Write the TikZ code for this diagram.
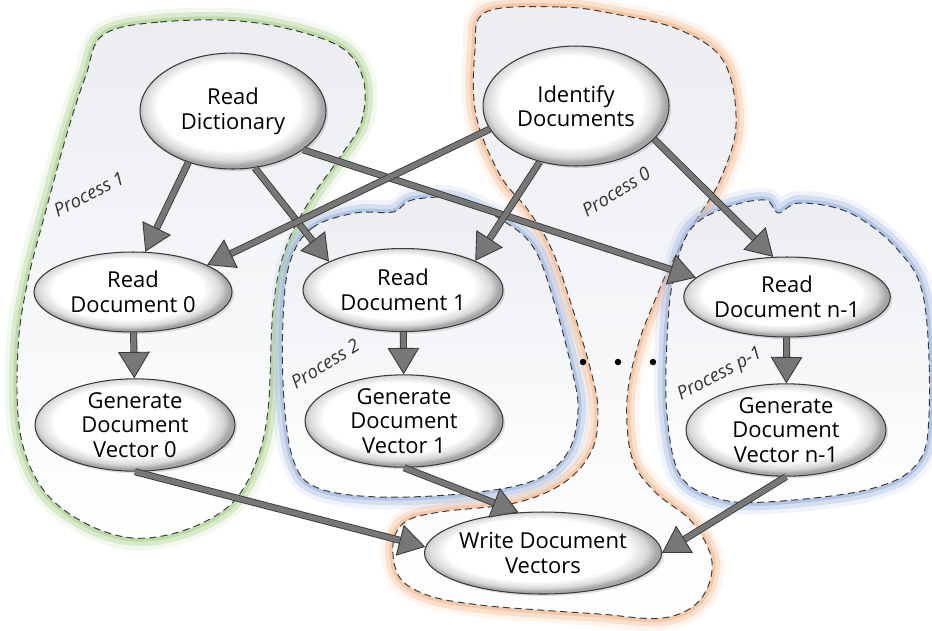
\documentclass[tikz,border=0pt]{standalone}
\usepackage{fontspec}
\setmainfont{Open Sans}
\usetikzlibrary{shapes.geometric,arrows.meta,backgrounds,shadows}

\definecolor{glowgreen}{HTML}{A9D18E}
\definecolor{glowblue}{HTML}{9DB5E0}
\definecolor{gloworange}{HTML}{F4B98F}
\definecolor{blobfill}{HTML}{EBEDF2}
\definecolor{arrowgray}{HTML}{777777}
\definecolor{edgegray}{HTML}{3A3A3A}

\pgfdeclareradialshading{rim}{\pgfpoint{-2bp}{3bp}}{color(0bp)=(white); color(19bp)=(white); color(23bp)=(gray!30); color(25bp)=(gray!70); color(50bp)=(gray!70)}

\begin{document}
\begin{tikzpicture}[x=0.02cm, y=-0.02cm,
  task/.style={ellipse, draw=edgegray, line width=0.6pt, shade, shading=rim, align=center, inner sep=0pt,
    font=\fontsize{12.5}{14}\selectfont, drop shadow={shadow xshift=1.2pt, shadow yshift=-1.2pt, opacity=0.25}},
  flow/.style={draw=edgegray, line width=0.5pt, double=arrowgray, double distance=3pt,
    -{Triangle[length=15pt, width=18pt, line width=0.5pt, fill=arrowgray, color=edgegray]}},
  blob/.style={preaction={draw=#1, line width=14pt, opacity=0.15}, preaction={draw=#1, line width=9pt, opacity=0.35},
    preaction={draw=#1, line width=4pt, opacity=0.6},
    top color=blobfill, bottom color=white, postaction={draw=edgegray, line width=0.55pt, dash pattern=on 4pt off 2.5pt}},
  proc/.style={font=\fontsize{10.5}{12}\selectfont\itshape, text=black!80},
  dot/.style={circle, fill=black, inner sep=1.3pt},
]
\useasboundingbox (0,0) rectangle (932,630);

% === tasks ===
\node[task, minimum width=3.72cm, minimum height=2.32cm] (rdict) at (233,111) {Read\\Dictionary};
\node[task, minimum width=3.72cm, minimum height=2.40cm] (iddoc) at (576,106) {Identify\\Documents};

\node[task, minimum width=3.96cm, minimum height=1.60cm] (rd0) at (133,292) {Read\\Document 0};
\node[task, minimum width=4.00cm, minimum height=1.66cm] (rd1) at (403,290) {Read\\Document 1};
\node[task, minimum width=4.00cm, minimum height=1.60cm] (rdn) at (787,297) {Read\\Document n-1};

\node[task, minimum width=4.00cm, minimum height=1.72cm] (gv0) at (135,425) {Generate\\Document\\Vector 0};
\node[task, minimum width=3.96cm, minimum height=1.68cm] (gv1) at (404,421) {Generate\\Document\\Vector 1};
\node[task, minimum width=4.00cm, minimum height=1.70cm] (gvn) at (786,430) {Generate\\Document\\Vector n-1};

\node[task, minimum width=4.52cm, minimum height=1.64cm] (wdv) at (543,553) {Write Document\\Vectors};

% === process labels and dots ===
\node[proc, rotate=27] (p1) at (89,194) {Process 1};
\node[proc, rotate=32] (p0) at (616,192) {Process 0};
\node[proc, rotate=32] (p2) at (325,364) {Process 2};
\node[proc, rotate=28] (pp) at (720,375) {Process p-1};

\node[dot] (d1) at (583,362) {};
\node[dot] (d2) at (618,362) {};
\node[dot] (d3) at (653,362) {};

% === flows ===
\draw[flow] (rdict.229) -- (rd0.73);
\draw[flow] (rdict.291) -- (rd1.159);
\draw[flow] (rdict.331) -- (rdn.168);
\draw[flow] (iddoc.195) -- (rd0.20);
\draw[flow] (iddoc.237) -- (rd1.22);
\draw[flow] (iddoc.337) -- (rdn.109);

\draw[flow] (rd0) -- (gv0);
\draw[flow] (rd1) -- (gv1);
\draw[flow] (rdn) -- (gvn);

\draw[flow] (gv0.south) -- (wdv.177);
\draw[flow] (gv1.south) -- (wdv.121);
\draw[flow] (gvn.south) -- (wdv.east);

% === process regions ===
\begin{scope}[on background layer]
\path[blob=glowgreen] plot[smooth cycle, tension=0.6] coordinates {(103,35) (160,22) (250,22) (333,43) (362,75) (362,120)
  (340,157) (310,200) (285,250) (273,310) (268,410) (255,465) (230,505) (185,530) (133,538) (83,522) (42,488)
  (20,432) (18,348) (28,280) (46,210) (68,130) (86,75)};
\path[blob=gloworange] plot[smooth cycle, tension=0.6] coordinates {(486,12) (560,7) (615,14) (680,30) (724,62) (736,125)
  (720,180) (695,222) (672,262) (655,300) (638,345) (627,400) (632,458) (655,492) (692,522) (712,562) (700,600)
  (663,618) (600,614) (540,610) (480,605) (430,596) (400,578) (393,545) (405,522) (440,512) (515,503) (565,482)
  (592,450) (598,412) (592,375) (573,310) (552,250) (528,210) (500,175) (476,115) (475,50)};
\path[blob=glowblue] plot[smooth cycle, tension=0.6] coordinates {(290,262) (312,228) (355,213) (393,212) (412,200)
  (455,199) (505,222) (535,250) (555,305) (572,370) (578,410) (568,452) (535,480) (470,493) (380,497) (318,488)
  (294,462) (284,400) (283,320)};
\path[blob=glowblue] plot[smooth cycle, tension=0.6] coordinates {(690,230) (725,208) (765,200) (778,213) (800,203)
  (850,213) (898,250) (924,300) (929,415) (916,465) (866,490) (766,502) (716,498) (680,475) (667,415) (667,340)
  (673,280)};
\end{scope}

\end{tikzpicture}
\end{document}
